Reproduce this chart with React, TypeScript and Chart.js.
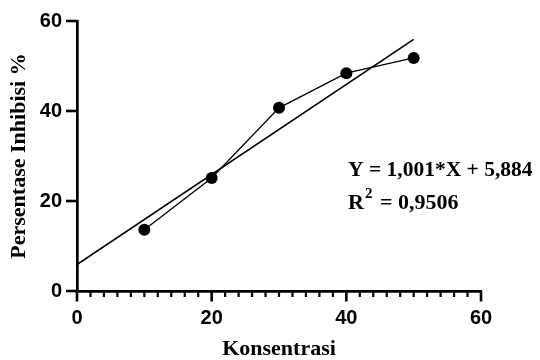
import React, { useEffect, useRef } from 'react';
import { Chart, registerables } from 'chart.js';

Chart.register(...registerables);

// Data
const konsentrasi = [10, 20, 30, 40, 50];
const inhibisi = [13.6, 25.1, 40.7, 48.4, 51.8];
const regressionX = [0, 50];
const regressionY = [5.884, 55.934];
const xMajorLabels = [0, 20, 40, 60];
const yMajorLabels = [0, 20, 40, 60];
const xTitle = 'Konsentrasi';
const yTitle = 'Persentase Inhibisi %';
const equationText = 'Y = 1,001*X + 5,884';
const r2Base = 'R';
const r2Sup = '2';
const r2Rest = '= 0,9506';

const decorPlugin = {
  id: 'decor',
  afterDraw(chart: any) {
    const { ctx, chartArea, scales } = chart;
    const x = scales.x;
    const y = scales.y;
    ctx.save();
    ctx.strokeStyle = '#000';
    ctx.lineCap = 'butt';
    // x ticks (minor every 2, major every 20)
    x.ticks.forEach((t: any) => {
      const px = x.getPixelForValue(t.value);
      const major = xMajorLabels.includes(t.value);
      ctx.lineWidth = major ? 2.6 : 2.2;
      ctx.beginPath();
      ctx.moveTo(px, chartArea.bottom);
      ctx.lineTo(px, chartArea.bottom + (major ? 10.5 : 6));
      ctx.stroke();
    });
    // y ticks
    y.ticks.forEach((t: any) => {
      const py = y.getPixelForValue(t.value);
      ctx.lineWidth = 2.6;
      ctx.beginPath();
      ctx.moveTo(chartArea.left - 11, py);
      ctx.lineTo(chartArea.left, py);
      ctx.stroke();
    });
    // equation text
    ctx.fillStyle = '#000';
    ctx.textAlign = 'left';
    ctx.textBaseline = 'alphabetic';
    ctx.font = 'bold 21.5px "Liberation Serif"';
    ctx.fillText(equationText, 348, 176);
    ctx.font = 'bold 22px "Liberation Serif"';
    ctx.fillText(r2Base, 348, 209);
    const rw = ctx.measureText(r2Base).width;
    ctx.font = 'bold 15px "Liberation Serif"';
    const supX = 348 + rw + 1;
    ctx.fillText(r2Sup, supX, 198);
    const sw = ctx.measureText(r2Sup).width;
    ctx.font = 'bold 22px "Liberation Serif"';
    ctx.fillText(r2Rest, supX + sw + 7.5, 209);
    ctx.restore();
  },
};

export default function App() {
  const ref = useRef<HTMLCanvasElement | null>(null);
  useEffect(() => {
    document.body.style.margin = '0';
    const canvas = ref.current!;
    const chart = new Chart(canvas, {
      type: 'scatter',
      data: {
        datasets: [
          {
            label: 'data',
            data: konsentrasi.map((v, i) => ({ x: v, y: inhibisi[i] })),
            showLine: true,
            borderColor: '#000',
            backgroundColor: '#000',
            borderWidth: 1.3,
            pointRadius: 6,
            pointHoverRadius: 6,
            pointBorderWidth: 0,
          },
          {
            label: 'fit',
            data: regressionX.map((v, i) => ({ x: v, y: regressionY[i] })),
            showLine: true,
            borderColor: '#000',
            backgroundColor: '#000',
            borderWidth: 1.6,
            pointRadius: 0,
          },
        ],
      },
      options: {
        responsive: false,
        animation: false,
        events: [],
        layout: { padding: { left: 0, top: 21, right: 59, bottom: 0 } },
        plugins: {
          legend: { display: false },
          tooltip: { enabled: false },
        },
        scales: {
          x: {
            type: 'linear',
            min: 0,
            max: 60,
            afterFit: (s: any) => {
              s.height = 69;
            },
            ticks: {
              stepSize: 2,
              autoSkip: false,
              maxRotation: 0,
              padding: 5,
              color: '#000',
              font: { family: '"Liberation Sans"', weight: 'bold', size: 20 },
              callback: (v: any) => (xMajorLabels.includes(v) ? String(v) : ''),
            },
            grid: {
              display: true,
              drawOnChartArea: false,
              drawTicks: true,
              tickLength: 10,
              tickColor: 'rgba(0,0,0,0)',
            },
            border: { display: true, color: '#000', width: 2.7 },
            title: {
              display: true,
              text: xTitle,
              color: '#000',
              font: { family: '"Liberation Serif"', weight: 'bold', size: 22, lineHeight: 1 },
              padding: { top: 0, bottom: 0 },
            },
          },
          y: {
            type: 'linear',
            min: 0,
            max: 60,
            afterFit: (s: any) => {
              s.width = 77;
            },
            ticks: {
              stepSize: 20,
              padding: 5,
              color: '#000',
              font: { family: '"Liberation Sans"', weight: 'bold', size: 20 },
              callback: (v: any) => (yMajorLabels.includes(v) ? String(v) : ''),
            },
            grid: {
              display: true,
              drawOnChartArea: false,
              drawTicks: true,
              tickLength: 10,
              tickColor: 'rgba(0,0,0,0)',
            },
            border: { display: true, color: '#000', width: 2.7 },
            title: {
              display: true,
              text: yTitle,
              color: '#000',
              font: { family: '"Liberation Serif"', weight: 'bold', size: 22, lineHeight: 1 },
              padding: { top: 8, bottom: 0 },
            },
          },
        },
      },
      plugins: [decorPlugin],
    } as any);
    return () => chart.destroy();
  }, []);
  return (
    <div style={{ width: 540, height: 360 }}>
      <canvas ref={ref} width={540} height={360} style={{ display: 'block' }} />
    </div>
  );
}
